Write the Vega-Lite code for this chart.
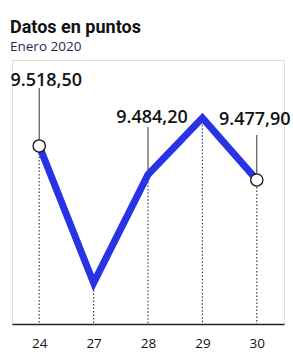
{
  "$schema": "https://vega.github.io/schema/vega-lite/v6.json",
  "autosize": {"type": "none"},
  "width": 272,
  "height": 264,
  "padding": {"left": 12, "top": 60, "right": 9, "bottom": 33},
  "background": "white",
  "title": {
    "text": "Datos en puntos",
    "subtitle": "Enero 2020",
    "anchor": "start",
    "frame": "group",
    "dx": -2,
    "offset": 7,
    "font": "Roboto",
    "fontSize": 18,
    "fontWeight": "bold",
    "color": "#111111",
    "subtitleFont": "Open Sans",
    "subtitleFontSize": 13.5,
    "subtitleColor": "#1f2b55",
    "subtitlePadding": 3
  },
  "data": {
    "values": [
      {"day": "24", "value": 9518.5, "label": "9.518,50"},
      {"day": "27", "value": 9355, "label": ""},
      {"day": "28", "value": 9484.2, "label": "9.484,20"},
      {"day": "29", "value": 9552, "label": ""},
      {"day": "30", "value": 9477.9, "label": "9.477,90"}
    ]
  },
  "encoding": {
    "x": {
      "field": "day",
      "type": "ordinal",
      "scale": {"type": "point", "padding": 0.5},
      "sort": null,
      "axis": {
        "title": null,
        "ticks": false,
        "grid": false,
        "domainColor": "#222222",
        "domainWidth": 1.5,
        "labelAngle": 0,
        "labelFont": "Open Sans",
        "labelFontSize": 13.5,
        "labelColor": "#111111",
        "labelPadding": 12
      }
    },
    "y": {
      "field": "value",
      "type": "quantitative",
      "scale": {"domain": [9306, 9621], "zero": false, "nice": false},
      "axis": null
    }
  },
  "layer": [
    {
      "mark": {"type": "rule", "color": "#2f3f6a", "strokeWidth": 1.2, "strokeDash": [1.5, 2]},
      "encoding": {"y2": {"datum": 9306}}
    },
    {
      "transform": [{"filter": "datum.day == '24'"}],
      "mark": {"type": "rule", "color": "#333333", "strokeWidth": 1},
      "encoding": {"y2": {"datum": 9587.5}}
    },
    {
      "transform": [{"filter": "datum.day == '28'"}],
      "mark": {"type": "rule", "color": "#333333", "strokeWidth": 1},
      "encoding": {"y2": {"datum": 9541}}
    },
    {
      "transform": [{"filter": "datum.day == '30'"}],
      "mark": {"type": "rule", "color": "#333333", "strokeWidth": 1},
      "encoding": {"y2": {"datum": 9531.5}}
    },
    {
      "mark": {"type": "line", "color": "#2a32e6", "strokeWidth": 7, "strokeJoin": "miter", "strokeCap": "butt"}
    },
    {
      "transform": [{"filter": "datum.day == '24' || datum.day == '30'"}],
      "mark": {"type": "point", "shape": "circle", "filled": true, "fill": "white", "stroke": "#111111", "strokeWidth": 1.3, "size": 150, "opacity": 1}
    },
    {
      "transform": [{"filter": "datum.day == '24'"}],
      "mark": {"type": "text", "font": "Open Sans", "fontSize": 18, "fontWeight": 600, "color": "#111111", "baseline": "alphabetic", "align": "center", "dx": 7, "dy": -60},
      "encoding": {"text": {"field": "label"}}
    },
    {
      "transform": [{"filter": "datum.day == '28'"}],
      "mark": {"type": "text", "font": "Open Sans", "fontSize": 18, "fontWeight": 600, "color": "#111111", "baseline": "alphabetic", "align": "center", "dx": 4, "dy": -52},
      "encoding": {"text": {"field": "label"}}
    },
    {
      "transform": [{"filter": "datum.day == '30'"}],
      "mark": {"type": "text", "font": "Open Sans", "fontSize": 18, "fontWeight": 600, "color": "#111111", "baseline": "alphabetic", "align": "center", "dx": -2, "dy": -55},
      "encoding": {"text": {"field": "label"}}
    }
  ]
}
